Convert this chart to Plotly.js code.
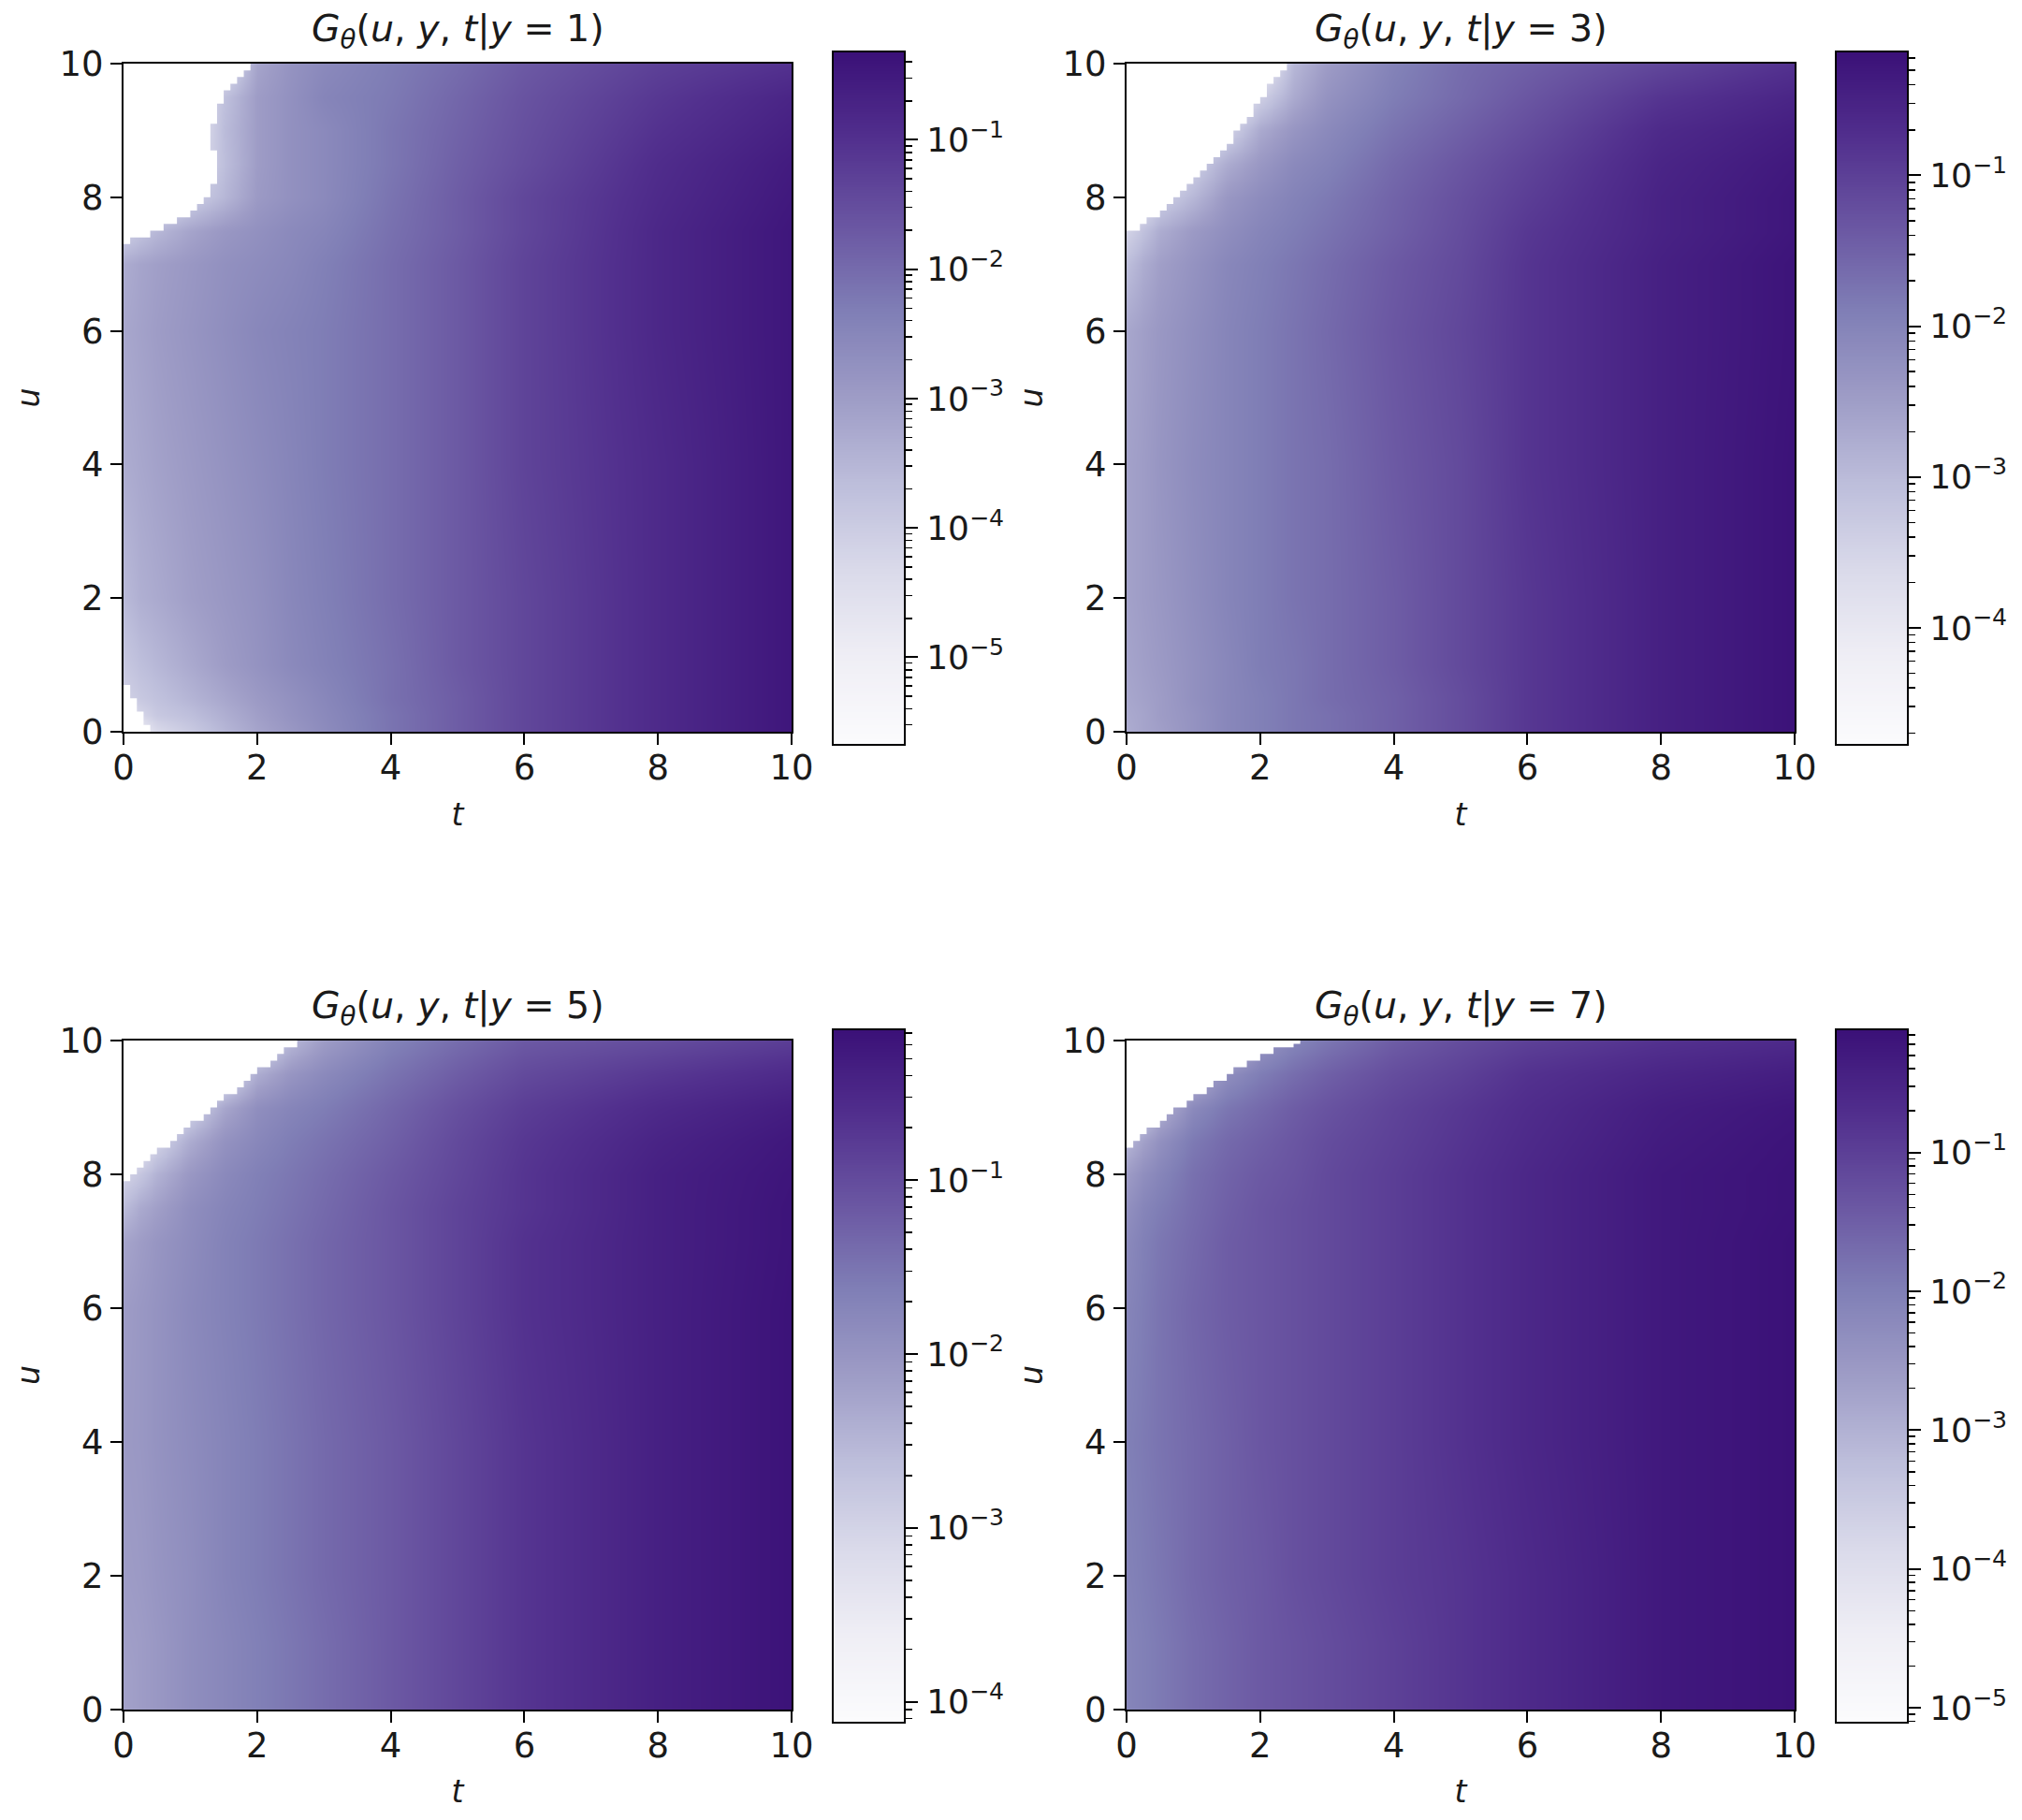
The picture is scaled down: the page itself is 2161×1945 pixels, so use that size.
<!DOCTYPE html>
<html><head><meta charset="utf-8">
<script src="https://cdn.plot.ly/plotly-3.0.1.min.js"></script>
<style>html,body{margin:0;padding:0;background:#fff}</style></head>
<body><div id="chart" style="width:2161px;height:1945px"></div>
<script>
// Shared grid of the density tables
const tValues = [0,.25,.5,1,1.5,2,2.5,3,4,5,6,8,10];
const uValues = [0,.25,.5,1,2,4,6,7,7.5,8,8.5,9,9.5,10];
const yConditions = [1,3,5,7];

// Each value: G on the colour bar's log scale, 0 = bar bottom, 1 = bar top. Rows follow uValues.
const normG_y1 = [
 [.10,.15,.25,.32,.40,.47,.52,.57,.66,.73,.80,.90,.98],
 [.20,.27,.33,.37,.43,.49,.54,.58,.66,.73,.80,.90,.98],
 [.29,.33,.36,.41,.46,.51,.55,.59,.67,.73,.80,.90,.98],
 [.33,.37,.40,.45,.50,.54,.58,.61,.67,.74,.80,.90,.98],
 [.39,.43,.45,.49,.52,.55,.59,.62,.68,.74,.80,.90,.98],
 [.44,.46,.48,.51,.54,.57,.60,.63,.68,.74,.81,.90,.98],
 [.46,.48,.50,.53,.56,.59,.61,.63,.68,.74,.81,.91,.98],
 [.44,.47,.49,.52,.55,.57,.59,.62,.68,.74,.81,.91,.98],
 [.30,.35,.40,.47,.52,.55,.58,.60,.67,.73,.80,.91,.98],
 [.10,.15,.20,.30,.40,.51,.55,.58,.66,.73,.80,.90,.97],
 [.10,.10,.15,.20,.37,.50,.55,.58,.65,.72,.78,.89,.96],
 [.10,.10,.10,.15,.38,.50,.55,.58,.65,.71,.77,.87,.94],
 [.10,.10,.10,.15,.36,.50,.55,.60,.64,.70,.76,.85,.92],
 [.10,.10,.10,.10,.20,.47,.54,.58,.63,.68,.74,.82,.87]];
const normG_y3 = [
 [.44,.47,.49,.54,.59,.62,.65,.67,.72,.78,.85,.94,.995],
 [.45,.47,.50,.54,.59,.62,.65,.67,.72,.78,.85,.94,.995],
 [.46,.48,.50,.55,.59,.62,.65,.68,.72,.78,.85,.94,.995],
 [.47,.49,.51,.55,.59,.63,.65,.68,.73,.79,.85,.94,.995],
 [.48,.50,.52,.56,.60,.63,.66,.68,.73,.79,.85,.94,.995],
 [.48,.50,.53,.57,.60,.63,.66,.68,.74,.79,.86,.94,.995],
 [.46,.49,.52,.56,.60,.63,.66,.69,.75,.80,.86,.94,.99],
 [.37,.44,.49,.54,.59,.62,.65,.68,.74,.79,.86,.94,.99],
 [.28,.36,.44,.51,.56,.60,.63,.66,.72,.78,.85,.93,.98],
 [.10,.20,.30,.40,.52,.57,.61,.64,.71,.77,.83,.93,.98],
 [.10,.10,.12,.30,.44,.52,.58,.61,.69,.75,.81,.92,.97],
 [.10,.10,.10,.12,.28,.45,.53,.58,.66,.72,.78,.90,.95],
 [.10,.10,.10,.10,.10,.30,.45,.54,.63,.69,.75,.86,.92],
 [.10,.10,.10,.10,.10,.12,.40,.50,.61,.68,.72,.80,.87]];
const normG_y5 = [
 [.48,.50,.52,.56,.59,.62,.65,.68,.74,.80,.86,.94,.995],
 [.48,.50,.52,.56,.59,.62,.65,.68,.74,.80,.86,.94,.995],
 [.48,.50,.52,.56,.59,.62,.65,.68,.74,.80,.86,.94,.995],
 [.49,.50,.52,.56,.59,.62,.65,.68,.74,.80,.86,.94,.995],
 [.50,.51,.53,.56,.60,.63,.66,.69,.74,.80,.86,.94,.995],
 [.51,.52,.54,.57,.60,.63,.66,.69,.74,.80,.86,.94,.995],
 [.50,.52,.54,.58,.61,.64,.67,.70,.75,.81,.87,.94,.995],
 [.47,.50,.53,.57,.61,.64,.67,.70,.75,.81,.87,.94,.99],
 [.38,.45,.49,.56,.60,.63,.66,.69,.75,.81,.86,.94,.99],
 [.28,.34,.42,.52,.58,.62,.65,.68,.74,.80,.86,.94,.985],
 [.10,.15,.28,.44,.54,.59,.63,.66,.72,.79,.85,.925,.975],
 [.10,.10,.10,.28,.46,.56,.60,.63,.70,.77,.83,.90,.95],
 [.10,.10,.10,.10,.22,.44,.53,.58,.66,.73,.79,.85,.90],
 [.10,.10,.10,.10,.10,.22,.40,.50,.61,.68,.74,.78,.83]];
const normG_y7 = [
 [.60,.62,.64,.68,.71,.74,.76,.78,.82,.86,.90,.97,1],
 [.60,.62,.64,.68,.71,.74,.76,.78,.82,.86,.90,.97,1],
 [.60,.62,.64,.68,.71,.74,.76,.78,.82,.86,.90,.97,1],
 [.60,.62,.64,.68,.71,.74,.76,.78,.82,.86,.90,.97,1],
 [.61,.63,.65,.69,.72,.74,.77,.79,.83,.86,.90,.97,1],
 [.62,.64,.66,.69,.72,.75,.77,.79,.83,.87,.91,.97,1],
 [.60,.63,.66,.70,.73,.75,.77,.79,.83,.87,.91,.97,1],
 [.58,.62,.65,.69,.73,.75,.77,.79,.83,.87,.91,.97,1],
 [.55,.60,.63,.68,.72,.75,.77,.79,.83,.87,.91,.97,.995],
 [.50,.56,.60,.67,.71,.74,.76,.79,.83,.87,.91,.97,.995],
 [.40,.48,.55,.64,.69,.72,.75,.78,.82,.86,.90,.96,.99],
 [.10,.30,.42,.58,.65,.69,.73,.76,.81,.85,.89,.95,.98],
 [.10,.10,.10,.40,.56,.63,.68,.72,.78,.82,.87,.92,.95],
 [.10,.10,.10,.10,.30,.52,.60,.65,.73,.78,.82,.87,.90]];

// Edge of the empty (white) area: t and u pairs, sections split by null
const edgeT_y1 = [0,.1,.2,.3,.4,.5,.6,.7,.8,.9,1,1.1,1.2,1.3,1.4,1.4,1.3,1.3,1.4,1.5,1.6,1.7,1.8,1.9,0,null,0,.1,.2,.3,.4,0];
const edgeU_y1 = [7.3,7.4,7.4,7.4,7.5,7.5,7.6,7.6,7.7,7.7,7.8,7.9,8,8.2,8.4,8.7,8.8,9.1,9.4,9.6,9.7,9.8,9.9,10,10,null,.7,.5,.3,.1,0,0];
const edgeT_y3 = [0,.1,.2,.3,.4,.5,.6,.7,.8,.9,1,1.1,1.2,1.3,1.4,1.5,1.6,1.7,1.8,1.9,2,2.1,2.2,2.3,2.4,0];
const edgeU_y3 = [7.5,7.5,7.6,7.7,7.7,7.8,7.9,8,8.1,8.2,8.3,8.4,8.5,8.6,8.7,8.8,9,9.1,9.2,9.4,9.5,9.7,9.8,9.9,10,10];
const edgeT_y5 = [0,.1,.2,.3,.4,.5,.6,.7,.8,.9,1,1.1,1.2,1.3,1.4,1.5,1.6,1.7,1.8,1.9,2,2.1,2.2,2.3,2.4,2.5,2.6,2.8,0];
const edgeU_y5 = [7.9,8,8.1,8.2,8.3,8.4,8.4,8.5,8.6,8.7,8.8,8.8,8.9,9,9.1,9.2,9.2,9.3,9.4,9.5,9.6,9.6,9.7,9.8,9.9,9.9,10,10,10];
const edgeT_y7 = [0,.1,.2,.3,.4,.5,.6,.7,.8,.9,1,1.1,1.2,1.3,1.4,1.5,1.6,1.7,1.8,1.9,2,2.1,2.2,2.3,2.4,2.5,2.6,0];
const edgeU_y7 = [8.4,8.5,8.6,8.7,8.7,8.8,8.9,9,9,9.1,9.2,9.2,9.3,9.4,9.4,9.5,9.6,9.6,9.7,9.7,9.8,9.8,9.9,9.9,9.9,9.95,10,10];

// Colour bar limits, log10(G)
const barLow  = [-5.67,-4.77,-4.115,-5.10];
const barHigh = [-0.324,-0.184,-0.138,-0.12];
const barDecades = [[-1,-2,-3,-4,-5],[-1,-2,-3,-4],[-1,-2,-3,-4],[-1,-2,-3,-4,-5]];

const normTables = [normG_y1,normG_y3,normG_y5,normG_y7];
const edgeTs = [edgeT_y1,edgeT_y3,edgeT_y5,edgeT_y7];
const edgeUs = [edgeU_y1,edgeU_y3,edgeU_y5,edgeU_y7];
const tickValues = [0,2,4,6,8,10];

const purples = [[0,'#fbfbfd'],[.125,'#efeef5'],[.25,'#dadaea'],[.375,'#bdbedb'],[.5,'#9e9cc6'],[.625,'#807fb6'],[.75,'#6a56a2'],[.875,'#52308e'],[1,'#3b1178']];

// Page layout in pixels
const W = 2161, H = 1945;
const FONT = 'DejaVu Sans, sans-serif', FS = 37, INK = '#1a1a1a';
const boxes = [
 {l:132,  r:846,  t:68,   b:782,  cl:891,  cr:966,  ct:56,   cb:795,  ty:33},
 {l:1204, r:1918, t:68,   b:782,  cl:1963, cr:2038, ct:56,   cb:795,  ty:33},
 {l:132,  r:846,  t:1112, b:1827, cl:891,  cr:966,  ct:1101, cb:1840, ty:1077},
 {l:1204, r:1918, t:1112, b:1827, cl:1963, cr:2038, ct:1101, cb:1840, ty:1077}
];
const px = v => v / W, py = v => 1 - v / H;

const data = [], annotations = [];
const layout = {
  width:W, height:H, autosize:false, showlegend:false,
  margin:{l:0,r:0,t:0,b:0}, paper_bgcolor:'#fff', plot_bgcolor:'#fff',
  font:{family:FONT,size:FS,color:INK}, annotations
};

yConditions.forEach((yc,i) => {
  const b = boxes[i];
  const mx = 'x'+(2*i+1), my = 'y'+(2*i+1), cx = 'x'+(2*i+2), cy = 'y'+(2*i+2);
  const key = s => s.replace('x','xaxis').replace('y','yaxis');
  data.push({type:'heatmap',x:tValues,y:uValues,z:normTables[i],xaxis:mx,yaxis:my,
    zmin:0,zmax:1,zsmooth:'best',colorscale:purples,showscale:false,hoverinfo:'skip'});
  data.push({type:'scatter',mode:'lines',x:edgeTs[i],y:edgeUs[i],xaxis:mx,yaxis:my,
    line:{width:0,shape:'hv',color:'#ffffff'},fill:'toself',fillcolor:'#ffffff',hoverinfo:'skip'});

  const common = {range:[0,10],tickmode:'array',tickvals:tickValues,ticktext:tickValues.map(String),
    showgrid:false,zeroline:false,showline:true,mirror:true,linecolor:'#000',linewidth:2,
    ticks:'outside',ticklen:12,tickwidth:2,tickcolor:'#000',tickfont:{family:FONT,size:FS,color:INK}};
  layout[key(mx)] = Object.assign({},common,{domain:[px(b.l),px(b.r)],anchor:my,ticklabelstandoff:-7,
    title:{text:'<i>t</i>',standoff:17,font:{family:FONT,size:33,color:INK}}});
  layout[key(my)] = Object.assign({},common,{domain:[py(b.b),py(b.t)],anchor:mx,
    title:{text:'<i>u</i>',standoff:11,font:{family:FONT,size:33,color:INK}}});

  // Colour bar: a ramp drawn on its own log10 axis
  const lo = barLow[i], hi = barHigh[i], levels = 256;
  const rampY = [], rampZ = [];
  for (let k=-2;k<levels+2;k++){ rampY.push(lo+(k+.5)*(hi-lo)/levels); rampZ.push([Math.min(1,Math.max(0,k/(levels-1)))]); }
  data.push({type:'heatmap',x:[0.5],y:rampY,z:rampZ,xaxis:cx,yaxis:cy,dx:1,
    zmin:0,zmax:1,colorscale:purples,showscale:false,hoverinfo:'skip'});
  const minorVals = [];
  for (let n=Math.floor(lo);n<0;n++) for (let m=2;m<10;m++){ const v=n+Math.log10(m); if(v>lo&&v<hi) minorVals.push(v); }
  layout[key(cx)] = {domain:[px(b.cl),px(b.cr)],anchor:cy,range:[0,1],showticklabels:false,ticks:'',
    showgrid:false,zeroline:false,showline:true,mirror:true,linecolor:'#000',linewidth:2};
  layout[key(cy)] = {domain:[py(b.cb),py(b.ct)],anchor:cx,side:'right',range:[lo,hi],
    tickmode:'array',tickvals:barDecades[i],ticktext:barDecades[i].map(d=>'10<sup>\u2212'+(-d)+'</sup>'),
    ticks:'outside',ticklen:13,tickwidth:2,tickcolor:'#000',tickfont:{family:FONT,size:36,color:INK},ticklabelstandoff:2,
    minor:{tickmode:'array',tickvals:minorVals,ticks:'outside',ticklen:7,tickwidth:1.5,tickcolor:'#000',showgrid:false},
    showgrid:false,zeroline:false,showline:true,mirror:true,linecolor:'#000',linewidth:2};

  annotations.push({xref:'paper',yref:'paper',x:px((b.l+b.r)/2),y:py(b.ty),xanchor:'center',yanchor:'middle',showarrow:false,
    text:'<i>G</i><sub><i>\u03b8</i></sub>(<i>u</i>, <i>y</i>, <i>t</i>|<i>y</i> = '+yc+')',
    font:{family:FONT,size:39.5,color:INK}});
});

Plotly.newPlot('chart',data,layout,{displayModeBar:false,staticPlot:true});
</script></body></html>
